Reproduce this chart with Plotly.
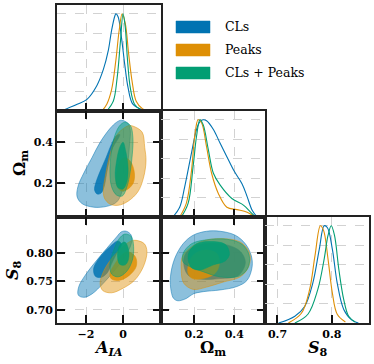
import plotly.graph_objects as go
from plotly.subplots import make_subplots

# ---- 1D marginals (peak-normalised) ----
aia_grid_cls = [-3.36, -2.48, -1.95, -1.42, -1.06, -0.80, -0.62, -0.44, -0.39, -0.27, -0.09, 0.09, 0.27, 0.53, 1.06]
aia_p_cls = [0.0, 0.07, 0.12, 0.26, 0.43, 0.62, 0.83, 0.98, 1.0, 0.97, 0.76, 0.48, 0.24, 0.07, 0.01]
aia_grid_pk = [-1.15, -0.88, -0.62, -0.39, -0.21, -0.05, 0.12, 0.30, 0.50, 0.71, 1.06, 1.42]
aia_p_pk = [0.0, 0.07, 0.22, 0.52, 0.83, 1.0, 0.90, 0.59, 0.29, 0.10, 0.02, 0.0]
aia_grid_cmb = [-0.88, -0.53, -0.32, -0.14, 0.0, 0.12, 0.23, 0.39, 0.62, 0.97]
aia_p_cmb = [0.0, 0.10, 0.34, 0.72, 1.0, 0.86, 0.55, 0.24, 0.07, 0.01]

om_grid_cls = [0.094, 0.128, 0.153, 0.187, 0.212, 0.229, 0.245, 0.262, 0.296, 0.329, 0.363, 0.397, 0.439, 0.464, 0.489, 0.514]
om_p_cls = [0.0, 0.10, 0.31, 0.66, 0.90, 0.98, 1.0, 0.99, 0.90, 0.76, 0.62, 0.48, 0.34, 0.21, 0.07, 0.0]
om_grid_pk = [0.128, 0.161, 0.187, 0.203, 0.220, 0.237, 0.262, 0.287, 0.321, 0.363, 0.413, 0.464, 0.497]
om_p_pk = [0.0, 0.14, 0.48, 0.83, 1.0, 0.97, 0.72, 0.45, 0.24, 0.10, 0.076, 0.05, 0.01]
om_grid_cmb = [0.136, 0.170, 0.195, 0.212, 0.229, 0.245, 0.271, 0.296, 0.329, 0.388, 0.447, 0.481, 0.506]
om_p_cmb = [0.0, 0.14, 0.52, 0.83, 1.0, 0.95, 0.69, 0.45, 0.33, 0.19, 0.12, 0.05, 0.0]

s8_grid_cls = [0.702, 0.732, 0.750, 0.765, 0.777, 0.786, 0.792, 0.801, 0.810, 0.822, 0.837, 0.849]
s8_p_cls = [0.0, 0.07, 0.17, 0.41, 0.76, 1.0, 0.98, 0.76, 0.41, 0.14, 0.03, 0.0]
s8_grid_pk = [0.720, 0.744, 0.759, 0.769, 0.779, 0.785, 0.793, 0.801, 0.810, 0.825]
s8_p_pk = [0.0, 0.10, 0.34, 0.69, 1.0, 0.95, 0.66, 0.31, 0.09, 0.01]
s8_grid_cmb = [0.732, 0.756, 0.774, 0.786, 0.793, 0.799, 0.805, 0.813, 0.822, 0.831, 0.843]
s8_p_cmb = [0.0, 0.09, 0.34, 0.66, 0.90, 1.0, 0.90, 0.55, 0.24, 0.07, 0.01]

# ---- 2D contours (68% inner, 95% outer) ----
# Omega_m vs A_IA
cls_aia_om_95 = ([-0.09, 0.27, 0.39, 0.35, 0.27, 0.09, -0.09, -0.35, -0.88, -1.59, -2.21, -2.48, -2.44, -2.12, -1.68, -1.24, -0.71, -0.35],
                 [0.508, 0.492, 0.458, 0.392, 0.308, 0.225, 0.150, 0.108, 0.087, 0.083, 0.100, 0.133, 0.183, 0.250, 0.325, 0.400, 0.467, 0.498])
cls_aia_om_68 = ([-0.18, -0.35, -0.62, -0.92, -1.24, -1.48, -1.54, -1.40, -1.18, -1.02, -0.90, -0.76, -0.55, -0.22],
                 [0.438, 0.433, 0.392, 0.325, 0.258, 0.200, 0.167, 0.147, 0.152, 0.185, 0.242, 0.308, 0.375, 0.425])
pk_aia_om_95 = ([0.57, 1.03, 1.17, 1.24, 1.10, 0.80, 0.27, -0.27, -0.71, -1.01, -1.06, -0.96, -0.80, -0.60, -0.32, 0.09, 0.35],
                [0.478, 0.450, 0.375, 0.308, 0.225, 0.158, 0.112, 0.092, 0.098, 0.128, 0.175, 0.233, 0.308, 0.375, 0.438, 0.472, 0.482])
pk_aia_om_68 = ([0.09, 0.39, 0.60, 0.57, 0.27, -0.09, -0.35, -0.32, -0.18],
                [0.325, 0.308, 0.258, 0.205, 0.172, 0.162, 0.192, 0.258, 0.305])
cmb_aia_om_95 = ([0.09, 0.39, 0.53, 0.50, 0.39, 0.21, -0.04, -0.35, -0.62, -0.71, -0.65, -0.50, -0.21],
                 [0.498, 0.483, 0.425, 0.342, 0.258, 0.183, 0.138, 0.142, 0.183, 0.258, 0.342, 0.417, 0.478])
cmb_aia_om_68 = ([0.0, 0.14, 0.27, 0.21, 0.0, -0.27, -0.42, -0.35, -0.18],
                 [0.400, 0.358, 0.275, 0.208, 0.172, 0.178, 0.233, 0.308, 0.375])

# S8 vs A_IA
cls_aia_s8_95 = ([0.18, 0.44, 0.44, 0.09, -0.44, -1.06, -1.68, -2.12, -2.42, -2.39, -2.04, -1.50, -0.88, -0.35, -0.09],
                 [0.838, 0.831, 0.816, 0.793, 0.770, 0.747, 0.728, 0.722, 0.726, 0.741, 0.761, 0.784, 0.808, 0.828, 0.837])
cls_aia_s8_68 = ([-0.27, -0.71, -1.24, -1.59, -1.50, -1.20, -0.88, -0.62, -0.35, -0.09],
                 [0.821, 0.811, 0.793, 0.773, 0.759, 0.757, 0.764, 0.781, 0.799, 0.815])
pk_aia_s8_95 = ([0.71, 1.15, 1.29, 1.10, 0.62, 0.0, -0.62, -1.10, -1.24, -1.06, -0.62, 0.0, 0.44],
                [0.822, 0.816, 0.802, 0.776, 0.752, 0.738, 0.730, 0.734, 0.747, 0.767, 0.790, 0.811, 0.821])
pk_aia_s8_68 = ([0.27, 0.67, 0.71, 0.35, -0.18, -0.62, -0.71, -0.44, -0.09],
                [0.802, 0.793, 0.776, 0.761, 0.752, 0.754, 0.764, 0.781, 0.796])
cmb_aia_s8_95 = ([0.09, 0.44, 0.57, 0.50, 0.18, -0.27, -0.62, -0.71, -0.50, -0.21],
                 [0.833, 0.829, 0.811, 0.787, 0.767, 0.758, 0.763, 0.781, 0.805, 0.825])
cmb_aia_s8_68 = ([0.09, 0.27, 0.30, 0.12, -0.18, -0.30, -0.18],
                 [0.819, 0.809, 0.790, 0.779, 0.780, 0.796, 0.813])

# S8 vs Omega_m
cls_om_s8_95 = ([0.119, 0.161, 0.195, 0.245, 0.329, 0.413, 0.464, 0.489, 0.484, 0.455, 0.405, 0.329, 0.262, 0.195, 0.145, 0.103, 0.082, 0.086, 0.098],
                [0.716, 0.720, 0.728, 0.732, 0.735, 0.741, 0.752, 0.776, 0.796, 0.816, 0.831, 0.838, 0.838, 0.831, 0.816, 0.790, 0.758, 0.732, 0.720])
cls_om_s8_68 = ([0.158, 0.212, 0.313, 0.422, 0.455, 0.422, 0.329, 0.229, 0.170, 0.148],
                [0.799, 0.813, 0.817, 0.805, 0.784, 0.761, 0.755, 0.754, 0.761, 0.781])
pk_om_s8_95 = ([0.145, 0.229, 0.329, 0.430, 0.477, 0.472, 0.430, 0.346, 0.262, 0.195, 0.148, 0.136],
               [0.796, 0.819, 0.825, 0.819, 0.799, 0.776, 0.758, 0.749, 0.740, 0.736, 0.747, 0.770])
pk_om_s8_68 = ([0.170, 0.195, 0.254, 0.313, 0.326, 0.304, 0.245, 0.192, 0.170],
               [0.776, 0.796, 0.805, 0.799, 0.781, 0.764, 0.755, 0.755, 0.764])
cmb_om_s8_95 = ([0.145, 0.187, 0.262, 0.363, 0.439, 0.474, 0.467, 0.422, 0.329, 0.245, 0.178, 0.145],
                [0.799, 0.816, 0.823, 0.824, 0.815, 0.796, 0.773, 0.759, 0.758, 0.767, 0.776, 0.784])
cmb_om_s8_68 = ([0.175, 0.212, 0.279, 0.355, 0.376, 0.355, 0.296, 0.229, 0.187, 0.171],
                [0.802, 0.816, 0.820, 0.815, 0.798, 0.786, 0.779, 0.770, 0.774, 0.787])

labels = ["CLs", "Peaks", "CLs + Peaks"]
colors = [(1, 115, 178), (222, 143, 5), (2, 158, 115)]

W, H = 374, 364
ML, MR, MT, MB = 57, 5, 5, 41


def rgba(c, a):
    return f"rgba({c[0]},{c[1]},{c[2]},{a})"


def pp(x, y):
    # pixel position -> paper coordinates (paper spans the plotting area)
    return (x - ML) / (W - ML - MR), (H - MB - y) / (H - MT - MB)


fig = make_subplots(rows=3, cols=3, horizontal_spacing=0, vertical_spacing=0)

marginals = [
    [(aia_grid_cls, aia_p_cls), (aia_grid_pk, aia_p_pk), (aia_grid_cmb, aia_p_cmb)],
    [(om_grid_cls, om_p_cls), (om_grid_pk, om_p_pk), (om_grid_cmb, om_p_cmb)],
    [(s8_grid_cls, s8_p_cls), (s8_grid_pk, s8_p_pk), (s8_grid_cmb, s8_p_cmb)],
]
contours = {
    (2, 1): [(cls_aia_om_95, cls_aia_om_68), (pk_aia_om_95, pk_aia_om_68), (cmb_aia_om_95, cmb_aia_om_68)],
    (3, 1): [(cls_aia_s8_95, cls_aia_s8_68), (pk_aia_s8_95, pk_aia_s8_68), (cmb_aia_s8_95, cmb_aia_s8_68)],
    (3, 2): [(cls_om_s8_95, cls_om_s8_68), (pk_om_s8_95, pk_om_s8_68), (cmb_om_s8_95, cmb_om_s8_68)],
}

# filled contours, one chain after the other
for (r, c), chains in contours.items():
    for col, (outer, inner) in zip(colors, chains):
        for (xs, ys), a in [(outer, 0.45), (inner, 0.85)]:
            fig.add_trace(go.Scatter(
                x=list(xs) + [xs[0]], y=list(ys) + [ys[0]], mode="lines", fill="toself",
                fillcolor=rgba(col, a), line=dict(color=rgba(col, 0.7), width=0.7, shape="spline", smoothing=1),
                hoverinfo="skip"), row=r, col=c)

# marginal curves
for i, curves in enumerate(marginals):
    for col, (xs, ps) in zip(colors, curves):
        fig.add_trace(go.Scatter(x=xs, y=ps, mode="lines",
                                 line=dict(color=rgba(col, 1), width=1.1, shape="spline", smoothing=1),
                                 hoverinfo="skip"), row=i + 1, col=i + 1)

tfont = dict(family="DejaVu Serif", size=11, color="black")
base = dict(showline=True, linecolor="#222", linewidth=1.6, ticks="inside", ticklen=8, tickwidth=2,
            tickcolor="#111", showgrid=True, gridcolor="#d2d2d2", griddash="dash", gridwidth=1,
            zeroline=False, tickfont=tfont, fixedrange=True, automargin=False)

rng_aia = [-3.57, 2.05]
rng_om = [0.035, 0.553]
rng_s8y = [0.677, 0.863]
rng_s8x = [0.677, 0.8685]
rng_p = [0, 1.09]

ax_aia = dict(range=rng_aia, tickvals=[-2, 0], ticktext=["<b>\u22122</b>", "<b>0</b>"])
ax_om = dict(range=rng_om, tickvals=[0.2, 0.4], ticktext=["<b>0.2</b>", "<b>0.4</b>"])
ax_s8y = dict(range=rng_s8y, tickvals=[0.70, 0.75, 0.80], ticktext=["<b>0.70</b>", "<b>0.75</b>", "<b>0.80</b>"])
ax_s8x = dict(range=rng_s8x, tickvals=[0.7, 0.8], ticktext=["<b>0.7</b>", "<b>0.8</b>"])
ax_p = dict(range=rng_p, tickvals=[0.2, 0.4, 0.6, 0.8, 1.0], ticks="", showticklabels=False, mirror=True)

layout_axes = {
    "xaxis": {**base, **ax_aia, "mirror": True, "showticklabels": False},
    "yaxis": {**base, **ax_p},
    "xaxis4": {**base, **ax_aia, "mirror": "ticks", "showticklabels": False},
    "yaxis4": {**base, **ax_om, "mirror": "ticks"},
    "xaxis5": {**base, **ax_om, "mirror": True, "showticklabels": False},
    "yaxis5": {**base, **ax_p},
    "xaxis7": {**base, **ax_aia, "mirror": "ticks"},
    "yaxis7": {**base, **ax_s8y, "mirror": "ticks"},
    "xaxis8": {**base, **ax_om, "mirror": "ticks"},
    "yaxis8": {**base, **ax_s8y, "mirror": "ticks", "showticklabels": False},
    "xaxis9": {**base, **ax_s8x, "mirror": True},
    "yaxis9": {**base, **ax_p},
}
for k in ["xaxis2", "xaxis3", "xaxis6", "yaxis2", "yaxis3", "yaxis6"]:
    layout_axes[k] = dict(visible=False, showgrid=False)
fig.update_layout(**layout_axes)

title_font = dict(family="DejaVu Serif", size=16, color="black")
annotations = []
for text, (x, y), ang in [
    ("<b><i>A</i><sub><i>IA</i></sub></b>", (108, 348), 0),
    ("<b>\u03a9<sub>m</sub></b>", (213, 348), 0),
    ("<b><i>S</i><sub>8</sub></b>", (318, 348), 0),
    ("<b>\u03a9<sub>m</sub></b>", (20, 163), -90),
    ("<b><i>S</i><sub>8</sub></b>", (13, 270), -90),
]:
    px_, py_ = pp(x, y)
    annotations.append(dict(text=text, x=px_, y=py_, xref="paper", yref="paper", showarrow=False,
                            textangle=ang, font=title_font, xanchor="center", yanchor="middle"))

# legend drawn as patches + text
shapes = []
for i, (lab, col) in enumerate(zip(labels, colors)):
    yc = 27 + 23 * i
    x0, y0 = pp(176, yc - 6)
    x1, y1 = pp(210, yc + 6)
    shapes.append(dict(type="rect", xref="paper", yref="paper", x0=x0, x1=x1, y0=y1, y1=y0,
                       fillcolor=rgba(col, 1), line=dict(color=rgba(col, 0.5), width=1)))
    tx, ty = pp(223, yc)
    annotations.append(dict(text=lab, x=tx, y=ty, xref="paper", yref="paper", showarrow=False,
                            xanchor="left", yanchor="middle",
                            font=dict(family="DejaVu Serif", size=12.5, color="black")))

fig.update_layout(width=W, height=H, margin=dict(l=ML, r=MR, t=MT, b=MB, autoexpand=False),
                  plot_bgcolor="white", paper_bgcolor="white", showlegend=False,
                  annotations=annotations, shapes=shapes)

# drop the default page margin so the figure sits at the window's corner
fig.write_html("out.html", config={"displayModeBar": False},
               post_script="document.body.style.margin='0';")
